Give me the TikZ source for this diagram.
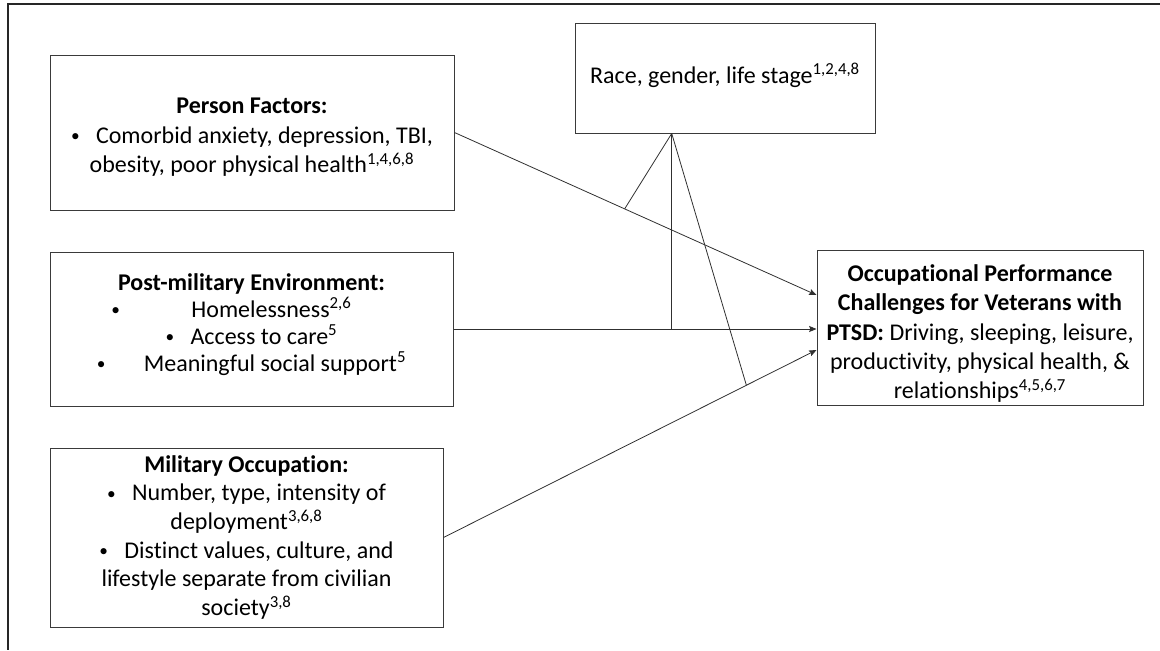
\documentclass[tikz,border=0pt]{standalone}
\usepackage{fontspec}
\setmainfont{Carlito}[Ligatures=NoCommon]
\usetikzlibrary{arrows.meta,calc}
\definecolor{boxgray}{HTML}{3A3A3A}
\definecolor{linegray}{HTML}{303030}
\newcommand{\bul}[1]{\makebox[5pt][l]{\raisebox{1.2pt}{\fontsize{13}{13}\selectfont •}}\hspace{#1}}
\begin{document}
\begin{tikzpicture}[x=0.75pt,y=-0.75pt,
  fbox/.style={draw=boxgray, line width=0.75pt, align=center, inner sep=0pt,
    font=\fontsize{18}{22}\selectfont},
  conn/.style={draw=linegray, line width=0.6pt},
  arr/.style={conn, -{Stealth[length=5.5pt,width=4.5pt,inset=0.8pt]}}]
\useasboundingbox (0,0) rectangle (1160,650);
\draw[line width=1.5pt, black!85] (1160,4) -- (8,4) -- (8,650);

\node[fbox, minimum width=303pt, minimum height=116.25pt] (pf) at (252,132.5)
  {\rule{0pt}{19pt}\textbf{Person Factors:}\\
   \bul{13.75pt}Comorbid anxiety, depression, TBI,\\
   obesity, poor physical health\textsuperscript{1,4,6,8}};

\node[fbox, minimum width=302.25pt, minimum height=115.5pt,
      font=\fontsize{18}{20.25}\selectfont] (pm) at (251.5,329)
  {\textbf{Post-military Environment:}\\
   \bul{55pt}Homelessness\textsuperscript{2,6}\kern30pt\mbox{}\\
   \bul{13.75pt}Access to care\textsuperscript{5}\\
   \bul{30.25pt}Meaningful social support\textsuperscript{5}\rule[-10pt]{0pt}{10pt}};

\node[fbox, minimum width=294.75pt, minimum height=134.25pt,
      font=\fontsize{18}{21.5}\selectfont] (mo) at (246.5,537.5)
  {\textbf{Military Occupation:}\\
   \bul{13.75pt}Number, type, intensity of\\
   deployment\textsuperscript{3,6,8}\\
   \bul{13.75pt}Distinct values, culture, and\\
   lifestyle separate from civilian\\
   society\textsuperscript{3,8}};

\node[fbox, minimum width=225pt, minimum height=82.5pt] (rg) at (725,78)
  {Race, gender, life stage\textsuperscript{1,2,4,8}\rule[-7pt]{0pt}{7pt}};

\node[fbox, minimum width=244.5pt, minimum height=116.25pt] (oc) at (980,327.5)
  {\rule{0pt}{22pt}\textbf{Occupational Performance}\\
   \textbf{Challenges for Veterans with}\\
   \textbf{PTSD:} Driving, sleeping, leisure,\\
   productivity, physical health, \&\\
   relationships\textsuperscript{4,5,6,7}};

\coordinate (ap) at ($(rg.south west)!0.323!(rg.south east)$);
\coordinate (t1) at ($(oc.west)+(0,-32.5)$);
\coordinate (t3) at ($(oc.west)+(0,22.5)$);

\draw[arr] (pf.east) -- (t1);
\draw[arr] (pm.east) -- (oc.west |- pm.east);
\draw[arr] (mo.east) -- (t3);

\coordinate (m1) at ($(pf.east)!0.47!(t1)$);
\coordinate (m3) at ($(mo.east)!0.812!(t3)$);
\draw[conn] (ap) -- (m1);
\draw[conn] (ap) -- (ap |- pm.east);
\draw[conn] (ap) -- (m3);
\end{tikzpicture}
\end{document}
